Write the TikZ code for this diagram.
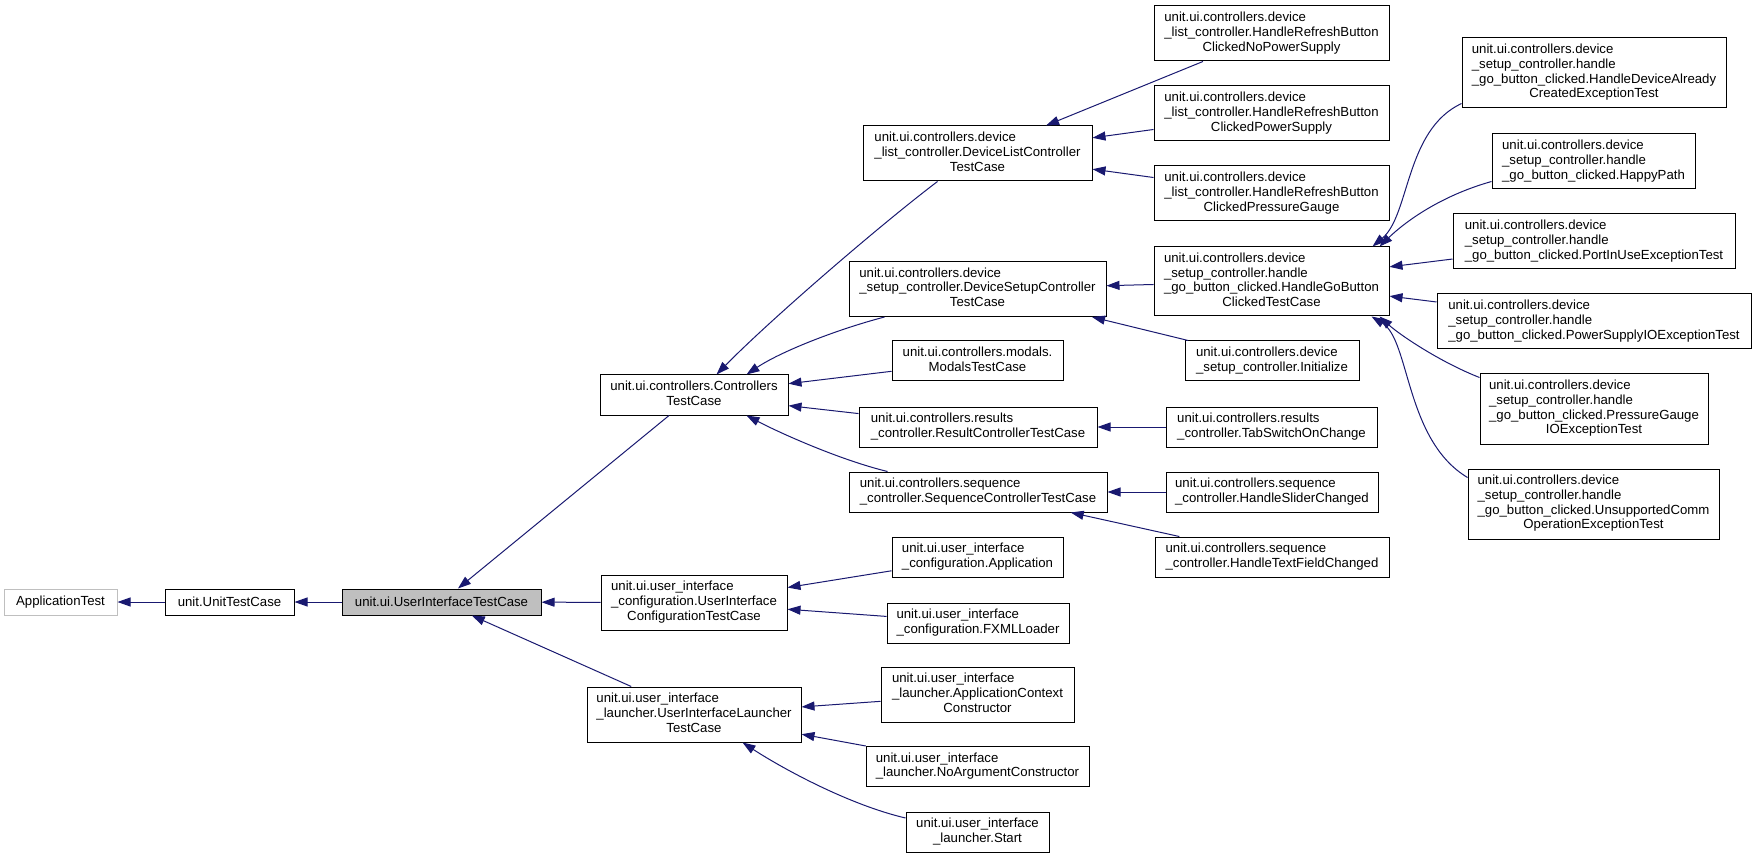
\documentclass[tikz,border=0pt]{standalone}
\usepackage{fontspec}
\setmainfont{Liberation Sans}
\usetikzlibrary{arrows.meta,calc}
\definecolor{navyc}{HTML}{191970}
\definecolor{graybox}{HTML}{BFBFBF}
\newcommand{\ml}[2]{\begin{tabular}{@{}l@{}}#1\\\multicolumn{1}{@{}c@{}}{#2}\end{tabular}}
\begin{document}
\begin{tikzpicture}[x=1pt,y=-1pt,
  box/.style={draw=black, line width=1pt, inner sep=0pt, fill=white, font=\fontsize{13.2}{14.7}\selectfont},
  sz/.style 2 args={minimum width=#1pt, minimum height=#2pt},
  inh/.style={draw=navyc, line width=1pt, {Triangle[length=13pt,width=9pt]}-}]
\useasboundingbox (0,0) rectangle (1756,858);
% left column
\node[box,sz={113}{26},draw=graybox] (apptest) at (60.5,602) {ApplicationTest};
\node[box,sz={129}{26}] (unittest) at (229.5,602) {unit.UnitTestCase};
\node[box,sz={199}{26},fill=graybox] (uitest) at (441.5,602) {unit.ui.UserInterfaceTestCase};
% second column
\node[box,sz={188}{40}] (ctrl) at (694,395) {\ml{unit.ui.controllers.Controllers}{TestCase}};
\node[box,sz={186}{55}] (uiconfig) at (694,602.5) {\ml{unit.ui.user\_interface\\\_configuration.UserInterface}{ConfigurationTestCase}};
\node[box,sz={214}{55}] (uilauncher) at (694,714.5) {\ml{unit.ui.user\_interface\\\_launcher.UserInterfaceLauncher}{TestCase}};
% third column
\node[box,sz={229}{55}] (devlist) at (977.5,153.5) {\ml{unit.ui.controllers.device\\\_list\_controller.DeviceListController}{TestCase}};
\node[box,sz={257}{55}] (devsetup) at (977.5,289) {\ml{unit.ui.controllers.device\\\_setup\_controller.DeviceSetupController}{TestCase}};
\node[box,sz={171}{40}] (modals) at (977.5,361) {\ml{unit.ui.controllers.modals.}{ModalsTestCase}};
\node[box,sz={238}{40}] (result) at (978,427) {\ml{unit.ui.controllers.results}{\_controller.ResultControllerTestCase}};
\node[box,sz={258}{40}] (sequence) at (978,492) {\ml{unit.ui.controllers.sequence}{\_controller.SequenceControllerTestCase}};
\node[box,sz={171}{40}] (application) at (977.5,557) {\ml{unit.ui.user\_interface}{\_configuration.Application}};
\node[box,sz={182}{40}] (fxml) at (978,623) {\ml{unit.ui.user\_interface}{\_configuration.FXMLLoader}};
\node[box,sz={193}{55}] (appctx) at (977.5,694.5) {\ml{unit.ui.user\_interface\\\_launcher.ApplicationContext}{Constructor}};
\node[box,sz={223}{40}] (noarg) at (977.5,766.5) {\ml{unit.ui.user\_interface}{\_launcher.NoArgumentConstructor}};
\node[box,sz={143}{40}] (start) at (977.5,832) {\ml{unit.ui.user\_interface}{\_launcher.Start}};
% fourth column
\node[box,sz={235}{55}] (hrnps) at (1271.5,33.5) {\ml{unit.ui.controllers.device\\\_list\_controller.HandleRefreshButton}{ClickedNoPowerSupply}};
\node[box,sz={235}{55}] (hrps) at (1271.5,113.5) {\ml{unit.ui.controllers.device\\\_list\_controller.HandleRefreshButton}{ClickedPowerSupply}};
\node[box,sz={235}{55}] (hrpg) at (1271.5,193.5) {\ml{unit.ui.controllers.device\\\_list\_controller.HandleRefreshButton}{ClickedPressureGauge}};
\node[box,sz={235}{69}] (gobutton) at (1271.5,281.5) {\ml{unit.ui.controllers.device\\\_setup\_controller.handle\\\_go\_button\_clicked.HandleGoButton}{ClickedTestCase}};
\node[box,sz={174}{40}] (initialize) at (1272,361) {\ml{unit.ui.controllers.device}{\_setup\_controller.Initialize}};
\node[box,sz={211}{40}] (tabswitch) at (1271.5,427) {\ml{unit.ui.controllers.results}{\_controller.TabSwitchOnChange}};
\node[box,sz={212}{40}] (slider) at (1272,492) {\ml{unit.ui.controllers.sequence}{\_controller.HandleSliderChanged}};
\node[box,sz={234}{40}] (textfield) at (1272,557) {\ml{unit.ui.controllers.sequence}{\_controller.HandleTextFieldChanged}};
% fifth column
\node[box,sz={264}{70}] (hda) at (1594,73) {\ml{unit.ui.controllers.device\\\_setup\_controller.handle\\\_go\_button\_clicked.HandleDeviceAlready}{CreatedExceptionTest}};
\node[box,sz={203}{55}] (happy) at (1593.5,161.5) {\ml{unit.ui.controllers.device\\\_setup\_controller.handle}{\_go\_button\_clicked.HappyPath}};
\node[box,sz={282}{55}] (portinuse) at (1594,241.5) {\ml{unit.ui.controllers.device\\\_setup\_controller.handle}{\_go\_button\_clicked.PortInUseExceptionTest}};
\node[box,sz={314}{55}] (psio) at (1594,321.5) {\ml{unit.ui.controllers.device\\\_setup\_controller.handle}{\_go\_button\_clicked.PowerSupplyIOExceptionTest}};
\node[box,sz={228}{70}] (pgio) at (1594,409) {\ml{unit.ui.controllers.device\\\_setup\_controller.handle\\\_go\_button\_clicked.PressureGauge}{IOExceptionTest}};
\node[box,sz={251}{70}] (unsupported) at (1593.5,504) {\ml{unit.ui.controllers.device\\\_setup\_controller.handle\\\_go\_button\_clicked.UnsupportedComm}{OperationExceptionTest}};
% edges (arrow at the base class)
\draw[inh] (apptest) -- (unittest);
\draw[inh] (unittest) -- (uitest);
\draw[inh] (uitest) -- (ctrl);
\draw[inh] (uitest) -- (uiconfig);
\draw[inh] (uitest) -- (uilauncher);
\draw[inh] ($(ctrl.north west)+(117,0)$) .. controls (770,320) and (880,225) .. ($(devlist.south west)+(75,0)$);
\draw[inh] ($(ctrl.north west)+(147,0)$) .. controls (780,352) and (835,330) .. ($(devsetup.south west)+(36,0)$);
\draw[inh] (ctrl) -- (modals);
\draw[inh] (ctrl) -- (result);
\draw[inh] ($(ctrl.south west)+(147,0)$) .. controls (780,433) and (840,460) .. ($(sequence.north west)+(39,0)$);
\draw[inh] (uiconfig) -- (application);
\draw[inh] (uiconfig) -- (fxml);
\draw[inh] (uilauncher) -- (appctx);
\draw[inh] (uilauncher) -- (noarg);
\draw[inh] ($(uilauncher.south west)+(156,0)$) .. controls (785,770) and (850,805) .. ($(start.west)+(0,-14)$);
\draw[inh] (devlist) -- (hrnps);
\draw[inh] (devlist) -- (hrps);
\draw[inh] (devlist) -- (hrpg);
\draw[inh] (devsetup) -- (gobutton);
\draw[inh] (devsetup) -- (initialize);
\draw[inh] (result) -- (tabswitch);
\draw[inh] (sequence) -- (slider);
\draw[inh] (sequence) -- (textfield);
\draw[inh] ($(gobutton.north west)+(219,0)$) .. controls (1410,215) and (1405,130) .. ($(hda.north west)+(0,66)$);
\draw[inh] ($(gobutton.north west)+(226,0)$) .. controls (1405,222) and (1440,196) .. ($(happy.north west)+(0,48)$);
\draw[inh] (gobutton) -- (portinuse);
\draw[inh] (gobutton) -- (psio);
\draw[inh] ($(gobutton.south west)+(226,0)$) .. controls (1400,335) and (1440,362) .. ($(pgio.north west)+(0,4)$);
\draw[inh] ($(gobutton.south west)+(218,0)$) .. controls (1410,340) and (1405,440) .. ($(unsupported.north west)+(0,9)$);
\end{tikzpicture}
\end{document}
